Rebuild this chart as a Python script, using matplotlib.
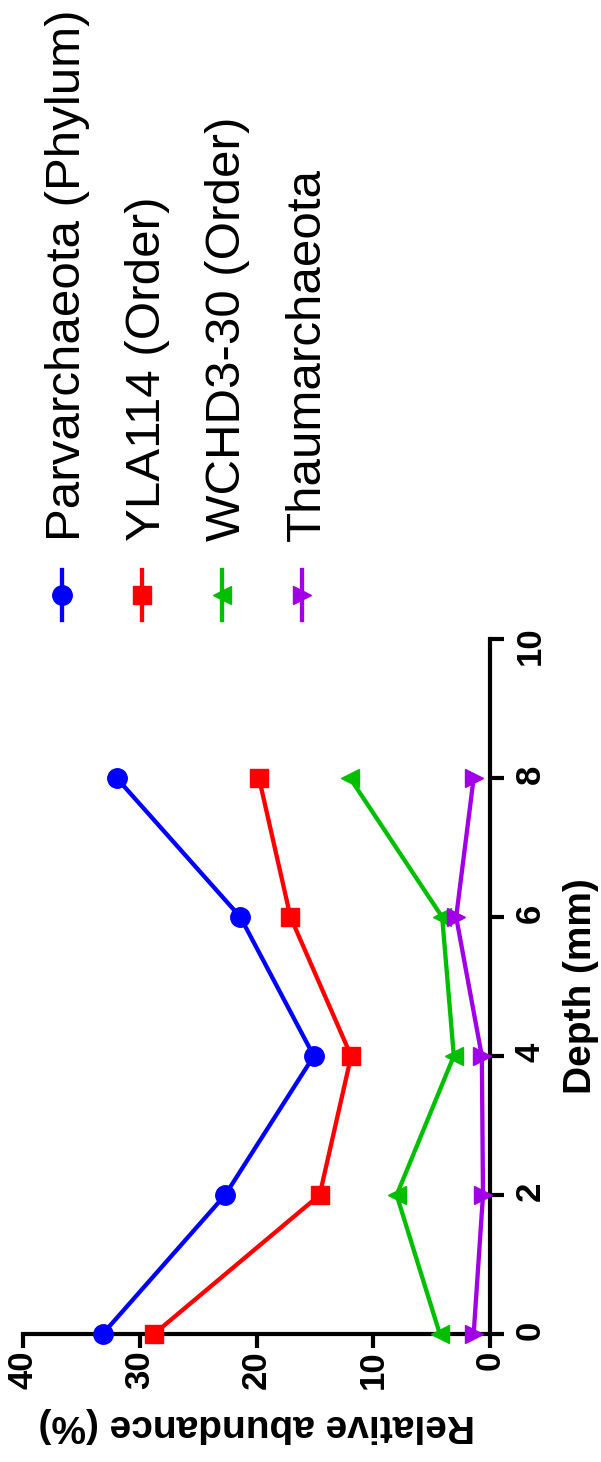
import matplotlib
matplotlib.use("Agg")
import matplotlib.pyplot as plt

# figure is drawn already turned a quarter turn: depth runs upwards,
# relative abundance runs to the left
depth = [0, 2, 4, 6, 8]
parvarchaeota = [33.2, 22.7, 15.1, 21.4, 32.0]
yla114 = [28.8, 14.6, 11.9, 17.1, 19.8]
wchd3_30 = [4.3, 8.0, 3.1, 4.1, 12.0]
thaumarchaeota = [1.4, 0.6, 0.7, 2.9, 1.4]

names = ["Parvarchaeota (Phylum)", "YLA114 (Order)", "WCHD3-30 (Order)", "Thaumarchaeota"]
colors = ["#0000FF", "#FF0000", "#00BF00", "#A100E6"]
markers = ["o", "s", "<", ">"]
msizes = [14, 13, 13, 13]
depth_ticks = [0, 2, 4, 6, 8, 10]
abund_ticks = [0, 10, 20, 30, 40]

plt.rcParams["font.family"] = ["Liberation Sans", "DejaVu Sans"]

W, H = 601, 1462
fig = plt.figure(figsize=(W / 100, H / 100), dpi=100)
ax = fig.add_axes([23.3 / W, 128 / H, 466.7 / W, 695 / H])

series = [parvarchaeota, yla114, wchd3_30, thaumarchaeota]
for vals, c, m, ms in zip(series, colors, markers, msizes):
    ax.plot(vals, depth, color=c, marker=m, markersize=ms, linewidth=3.1,
            clip_on=False, zorder=5)

ax.set_xlim(40, 0)
ax.set_ylim(0, 10)
ax.set_xticks(abund_ticks)
ax.set_yticks(depth_ticks)
for s in ["top", "left"]:
    ax.spines[s].set_visible(False)
for s in ["bottom", "right"]:
    ax.spines[s].set_linewidth(3)
ax.yaxis.tick_right()
ax.yaxis.set_label_position("right")
ax.tick_params(axis="both", direction="out", length=10, width=3)
ax.tick_params(axis="x", pad=2)
ax.tick_params(axis="y", pad=7)
for lab in ax.get_xticklabels() + ax.get_yticklabels():
    lab.set_rotation(90)
    lab.set_fontsize(25)
    lab.set_fontweight("bold")
ax.set_xlabel("Relative abundance (%)", fontsize=28, fontweight="bold",
              rotation=180, labelpad=13)
ax.set_ylabel("Depth (mm)", fontsize=28, fontweight="bold", rotation=90,
              labelpad=12)

# legend, drawn by hand so the text can be turned too
axl = fig.add_axes([0, 0, 1, 1], zorder=-1)
axl.set_xlim(0, W)
axl.set_ylim(H, 0)
axl.axis("off")
for i, (n, c, m, ms) in enumerate(zip(names, colors, markers, msizes)):
    xc = 61.5 + 80 * i
    axl.plot([xc, xc], [570, 620], color=c, linewidth=3.1)
    axl.plot([xc], [595], color=c, marker=m, markersize=ms, linestyle="none")
    axl.text(xc + 18.5, 541, n, fontsize=35.5, rotation=90,
             rotation_mode="anchor", ha="left", va="baseline")

fig.savefig("out.png", dpi=100)
